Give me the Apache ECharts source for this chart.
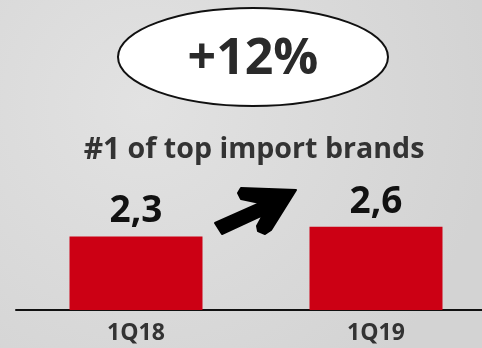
<!DOCTYPE html>
<html><head><meta charset="utf-8">
<script src="https://cdn.jsdelivr.net/npm/echarts@6/dist/echarts.min.js"></script>
<style>html,body{margin:0;padding:0;}#c{width:482px;height:348px;}</style>
</head><body><div id="c"></div>
<script>
var categories = ['1Q18', '1Q19'];
var values = [2.3, 2.6];
var growthText = '+12%';
var subtitleRank = '#1';
var subtitleRest = ' of top import brands';

var chart = echarts.init(document.getElementById('c'));
chart.setOption({
  backgroundColor: {
    type: 'radial', x: 0.3, y: 0.3, r: 1,
    colorStops: [{offset: 0, color: '#e2e2e2'}, {offset: 1, color: '#d3d3d3'}]
  },
  animation: false,
  grid: {left: 16, width: 480, top: 214, bottom: 38, containLabel: false, outerBoundsMode: 'none'},
  xAxis: {
    type: 'category', data: categories,
    axisLine: {lineStyle: {color: '#111', width: 2}},
    axisTick: {show: false},
    axisLabel: {color: '#333', fontFamily: 'Open Sans', fontWeight: 'bold', fontSize: 23, margin: 12}
  },
  yAxis: {type: 'value', min: 0, max: 3, show: false, splitLine: {show: false}},
  series: [{
    type: 'bar', data: values, barWidth: 133,
    itemStyle: {color: '#cc0014'},
    label: {
      show: true, position: 'top', distance: 6,
      color: '#111', fontFamily: 'Open Sans', fontWeight: 'bold', fontSize: 37,
      formatter: function (p) { return String(p.value).replace('.', ','); }
    }
  }],
  graphic: [
    {type: 'ellipse', shape: {cx: 253, cy: 57, rx: 135, ry: 49},
     style: {fill: '#ffffff', stroke: '#111', lineWidth: 2}},
    {type: 'text', x: 253, y: 60,
     style: {text: growthText, fill: '#2a2a2a', font: 'bold 50px "Open Sans"', textAlign: 'center', textVerticalAlign: 'middle'}},
    {type: 'text', x: 254, y: 150,
     style: {
       text: '{a|' + subtitleRank + '}{b|' + subtitleRest + '}',
       textAlign: 'center', textVerticalAlign: 'middle',
       rich: {
         a: {fill: '#333', fontFamily: 'Open Sans', fontWeight: 'bold', fontSize: 30},
         b: {fill: '#333', fontFamily: 'Open Sans', fontWeight: 'bold', fontSize: 28.6}
       }
     }},
    {type: 'polygon',
     shape: {points: [[215, 223], [260, 203], [241, 199], [238, 193], [241, 188], [296, 190], [271, 230], [265, 234], [258, 231], [257, 226], [263, 215], [222, 234]]},
     style: {fill: '#000', stroke: '#000', lineWidth: 2, lineJoin: 'round'}}
  ]
});
</script></body></html>
